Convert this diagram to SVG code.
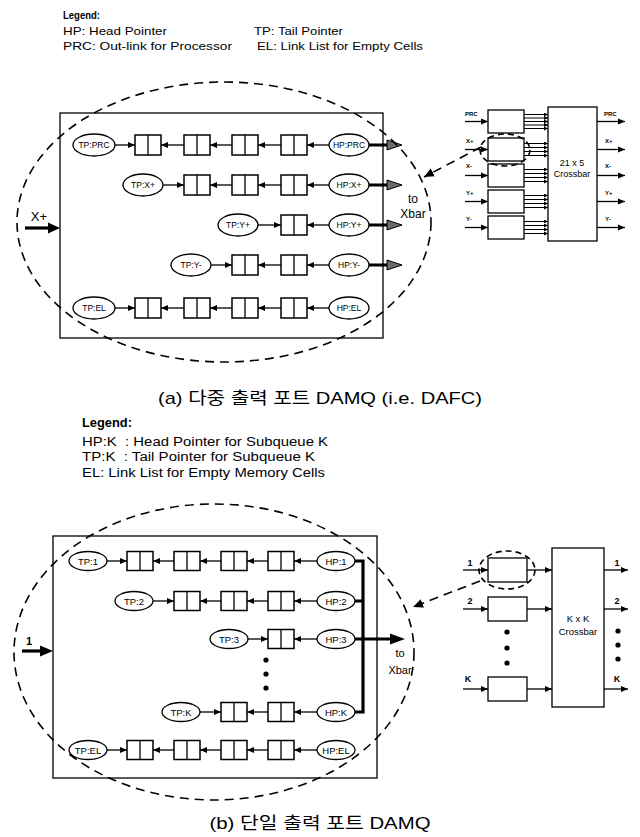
<svg xmlns="http://www.w3.org/2000/svg" width="640" height="837" viewBox="0 0 640 837">
<defs>
<marker id="ah" markerUnits="userSpaceOnUse" markerWidth="7" markerHeight="7" viewBox="0 0 7 7" refX="7" refY="3.5" orient="auto"><path d="M0,0.5 L7,3.5 L0,6.5 z" fill="#000"/></marker>
<marker id="sh" markerUnits="userSpaceOnUse" markerWidth="4" markerHeight="4" viewBox="0 0 4 4" refX="4" refY="2" orient="auto"><path d="M0,0 L4,2 L0,4 z" fill="#000"/></marker>
<marker id="dh" markerUnits="userSpaceOnUse" markerWidth="10" markerHeight="10" viewBox="0 0 10 10" refX="10" refY="5" orient="auto"><path d="M0,0.5 L10,5 L0,9.5 z" fill="#000"/></marker>
<style>
.ln{stroke:#000;stroke-width:1.3;fill:none}
.thk{stroke:#000;stroke-width:3.2;fill:none}
.box{fill:#fff;stroke:#000;stroke-width:1.3}
.cell{fill:#fff;stroke:#000;stroke-width:1.5}
.ell{fill:#fff;stroke:#000;stroke-width:1.3}
.dash{fill:none;stroke:#000;stroke-width:1.6;stroke-dasharray:9 6}
.sdash{fill:none;stroke:#000;stroke-width:1.6;stroke-dasharray:6 4}
.t{font-family:"Liberation Sans",Arial,sans-serif;fill:#000}
.na{font-family:"Liberation Sans",Arial,sans-serif;font-size:8.5px;text-anchor:middle;fill:#000}
.nb{font-family:"Liberation Sans",Arial,sans-serif;font-size:9.5px;text-anchor:middle;fill:#000}
.tiny{font-family:"Liberation Sans",Arial,sans-serif;font-size:6px;font-weight:bold;fill:#000}
.lg{font-family:"Liberation Sans",Arial,sans-serif;font-size:11px;fill:#000}
.lgb{font-family:"Liberation Sans",Arial,sans-serif;font-size:12.5px;fill:#000;white-space:pre}
.cap{font-family:"Liberation Sans","Noto Sans CJK KR",sans-serif;font-size:17px;text-anchor:middle;fill:#000}
.thead{fill:#6a6a6a;stroke:#000;stroke-width:1}
</style>
</defs>
<rect width="640" height="837" fill="#fff"/>

<!-- Legend (a) -->
<g id="legend-a">
<text class="lg" x="63" y="19" font-weight="bold" textLength="37" lengthAdjust="spacingAndGlyphs">Legend:</text>
<text class="lg" x="63" y="35" textLength="104" lengthAdjust="spacingAndGlyphs">HP: Head Pointer</text>
<text class="lg" x="254" y="35" textLength="89" lengthAdjust="spacingAndGlyphs">TP: Tail Pointer</text>
<text class="lg" x="63" y="50" textLength="169" lengthAdjust="spacingAndGlyphs">PRC: Out-link for Processor</text>
<text class="lg" x="257" y="50" textLength="166" lengthAdjust="spacingAndGlyphs">EL: Link List for Empty Cells</text>
</g>

<!-- Part (a) frame -->
<g id="a-frame"><rect class="box" x="60" y="113" width="323" height="225" fill="none"/></g>

<!-- (a) row 1 -->
<g id="a-tp-prc"><ellipse class="ell" cx="94" cy="145" rx="21" ry="11"/><text class="na" x="94" y="148">TP:PRC</text></g>
<g id="a-r1-c1"><rect class="cell" x="135" y="135" width="26" height="20"/><line class="ln" x1="148" y1="135" x2="148" y2="155"/></g>
<g id="a-r1-c2"><rect class="cell" x="184" y="135" width="26" height="20"/><line class="ln" x1="197" y1="135" x2="197" y2="155"/></g>
<g id="a-r1-c3"><rect class="cell" x="232" y="135" width="26" height="20"/><line class="ln" x1="245" y1="135" x2="245" y2="155"/></g>
<g id="a-r1-c4"><rect class="cell" x="281" y="135" width="26" height="20"/><line class="ln" x1="294" y1="135" x2="294" y2="155"/></g>
<g id="a-hp-prc"><ellipse class="ell" cx="349" cy="145" rx="20" ry="11"/><text class="na" x="349" y="148">HP:PRC</text></g>

<!-- (a) row 2 -->
<g id="a-tp-xp"><ellipse class="ell" cx="143" cy="185" rx="20" ry="11"/><text class="na" x="143" y="188">TP:X+</text></g>
<g id="a-r2-c2"><rect class="cell" x="184" y="175" width="26" height="20"/><line class="ln" x1="197" y1="175" x2="197" y2="195"/></g>
<g id="a-r2-c3"><rect class="cell" x="232" y="175" width="26" height="20"/><line class="ln" x1="245" y1="175" x2="245" y2="195"/></g>
<g id="a-r2-c4"><rect class="cell" x="281" y="175" width="26" height="20"/><line class="ln" x1="294" y1="175" x2="294" y2="195"/></g>
<g id="a-hp-xp"><ellipse class="ell" cx="349" cy="185" rx="20" ry="11"/><text class="na" x="349" y="188">HP:X+</text></g>

<!-- (a) row 3 -->
<g id="a-tp-yp"><ellipse class="ell" cx="238" cy="225" rx="20" ry="11"/><text class="na" x="238" y="228">TP:Y+</text></g>
<g id="a-r3-c4"><rect class="cell" x="281" y="215" width="26" height="20"/><line class="ln" x1="294" y1="215" x2="294" y2="235"/></g>
<g id="a-hp-yp"><ellipse class="ell" cx="349" cy="225" rx="20" ry="11"/><text class="na" x="349" y="228">HP:Y+</text></g>

<!-- (a) row 4 -->
<g id="a-tp-ym"><ellipse class="ell" cx="191" cy="265" rx="20" ry="11"/><text class="na" x="191" y="268">TP:Y-</text></g>
<g id="a-r4-c3"><rect class="cell" x="232" y="255" width="26" height="20"/><line class="ln" x1="245" y1="255" x2="245" y2="275"/></g>
<g id="a-r4-c4"><rect class="cell" x="281" y="255" width="26" height="20"/><line class="ln" x1="294" y1="255" x2="294" y2="275"/></g>
<g id="a-hp-ym"><ellipse class="ell" cx="349" cy="265" rx="20" ry="11"/><text class="na" x="349" y="268">HP:Y-</text></g>

<!-- (a) row 5 -->
<g id="a-tp-el"><ellipse class="ell" cx="94" cy="308" rx="21" ry="11"/><text class="na" x="94" y="311">TP:EL</text></g>
<g id="a-r5-c1"><rect class="cell" x="135" y="298" width="26" height="20"/><line class="ln" x1="148" y1="298" x2="148" y2="318"/></g>
<g id="a-r5-c2"><rect class="cell" x="184" y="298" width="26" height="20"/><line class="ln" x1="197" y1="298" x2="197" y2="318"/></g>
<g id="a-r5-c3"><rect class="cell" x="232" y="298" width="26" height="20"/><line class="ln" x1="245" y1="298" x2="245" y2="318"/></g>
<g id="a-r5-c4"><rect class="cell" x="281" y="298" width="26" height="20"/><line class="ln" x1="294" y1="298" x2="294" y2="318"/></g>
<g id="a-hp-el"><ellipse class="ell" cx="349" cy="308" rx="20" ry="11"/><text class="na" x="349" y="311">HP:EL</text></g>

<!-- (a) labels -->
<g id="a-xin-label"><text class="t" x="39" y="221" font-size="13" text-anchor="middle">X+</text></g>
<g id="a-toxbar"><text class="t" x="413" y="203" font-size="12" text-anchor="middle">to</text><text class="t" x="413" y="218" font-size="12" text-anchor="middle">Xbar</text></g>

<!-- (a) crossbar diagram -->
<g id="a-xbar"><rect class="box" x="548" y="107" width="49" height="134"/><text class="t" x="572" y="166" font-size="9" text-anchor="middle">21 x 5</text><text class="t" x="572" y="177" font-size="9" text-anchor="middle">Crossbar</text></g>
<g id="a-buf-prc"><rect class="box" x="488" y="110" width="36" height="23"/><text class="tiny" x="465" y="116">PRC</text></g>
<g id="a-buf-xp"><rect class="box" x="488" y="138" width="36" height="23"/><text class="tiny" x="466" y="143">X+</text></g>
<g id="a-buf-xm"><rect class="box" x="488" y="164" width="36" height="23"/><text class="tiny" x="466" y="168">X-</text></g>
<g id="a-buf-yp"><rect class="box" x="488" y="190" width="36" height="23"/><text class="tiny" x="466" y="195">Y+</text></g>
<g id="a-buf-ym"><rect class="box" x="488" y="216" width="36" height="23"/><text class="tiny" x="466" y="221">Y-</text></g>
<g id="a-out-labels"><text class="tiny" x="604" y="116">PRC</text><text class="tiny" x="605" y="143">X+</text><text class="tiny" x="605" y="168">X-</text><text class="tiny" x="605" y="195">Y+</text><text class="tiny" x="605" y="221">Y-</text></g>

<!-- Legend (b) -->
<g id="legend-b">
<text class="lgb" x="82" y="427" font-weight="bold" textLength="50" lengthAdjust="spacingAndGlyphs">Legend:</text>
<text class="lgb" x="82" y="446" textLength="246" lengthAdjust="spacingAndGlyphs">HP:K  : Head Pointer for Subqueue K</text>
<text class="lgb" x="82" y="461" textLength="233" lengthAdjust="spacingAndGlyphs">TP:K  : Tail Pointer for Subqueue K</text>
<text class="lgb" x="82" y="477" textLength="243" lengthAdjust="spacingAndGlyphs">EL: Link List for Empty Memory Cells</text>
</g>

<!-- Part (b) frame -->
<g id="b-frame"><rect class="box" x="53" y="536" width="324" height="242" fill="none"/></g>

<!-- (b) row 1 -->
<g id="b-tp-1"><ellipse class="ell" cx="88" cy="561" rx="19" ry="9.5"/><text class="nb" x="88" y="564.5">TP:1</text></g>
<g id="b-r1-c1"><rect class="cell" x="127" y="551.5" width="26" height="19"/><line class="ln" x1="140" y1="551.5" x2="140" y2="570.5"/></g>
<g id="b-r1-c2"><rect class="cell" x="174" y="551.5" width="26" height="19"/><line class="ln" x1="187" y1="551.5" x2="187" y2="570.5"/></g>
<g id="b-r1-c3"><rect class="cell" x="221" y="551.5" width="26" height="19"/><line class="ln" x1="234" y1="551.5" x2="234" y2="570.5"/></g>
<g id="b-r1-c4"><rect class="cell" x="268" y="551.5" width="26" height="19"/><line class="ln" x1="281" y1="551.5" x2="281" y2="570.5"/></g>
<g id="b-hp-1"><ellipse class="ell" cx="336" cy="561" rx="19" ry="9.5"/><text class="nb" x="336" y="564.5">HP:1</text></g>

<!-- (b) row 2 -->
<g id="b-tp-2"><ellipse class="ell" cx="134" cy="601" rx="19" ry="9.5"/><text class="nb" x="134" y="604.5">TP:2</text></g>
<g id="b-r2-c2"><rect class="cell" x="174" y="591.5" width="26" height="19"/><line class="ln" x1="187" y1="591.5" x2="187" y2="610.5"/></g>
<g id="b-r2-c3"><rect class="cell" x="221" y="591.5" width="26" height="19"/><line class="ln" x1="234" y1="591.5" x2="234" y2="610.5"/></g>
<g id="b-r2-c4"><rect class="cell" x="268" y="591.5" width="26" height="19"/><line class="ln" x1="281" y1="591.5" x2="281" y2="610.5"/></g>
<g id="b-hp-2"><ellipse class="ell" cx="336" cy="601" rx="19" ry="9.5"/><text class="nb" x="336" y="604.5">HP:2</text></g>

<!-- (b) row 3 -->
<g id="b-tp-3"><ellipse class="ell" cx="229" cy="639" rx="19" ry="9.5"/><text class="nb" x="229" y="642.5">TP:3</text></g>
<g id="b-r3-c4"><rect class="cell" x="268" y="629.5" width="26" height="19"/><line class="ln" x1="281" y1="629.5" x2="281" y2="648.5"/></g>
<g id="b-hp-3"><ellipse class="ell" cx="336" cy="639" rx="19" ry="9.5"/><text class="nb" x="336" y="642.5">HP:3</text></g>

<!-- (b) vertical dots -->
<g id="b-dots"><circle cx="266" cy="660" r="2.6"/><circle cx="266" cy="674" r="2.6"/><circle cx="266" cy="688" r="2.6"/></g>

<!-- (b) row K -->
<g id="b-tp-k"><ellipse class="ell" cx="181" cy="712" rx="19" ry="9.5"/><text class="nb" x="181" y="715.5">TP:K</text></g>
<g id="b-rk-c3"><rect class="cell" x="221" y="702.5" width="26" height="19"/><line class="ln" x1="234" y1="702.5" x2="234" y2="721.5"/></g>
<g id="b-rk-c4"><rect class="cell" x="268" y="702.5" width="26" height="19"/><line class="ln" x1="281" y1="702.5" x2="281" y2="721.5"/></g>
<g id="b-hp-k"><ellipse class="ell" cx="336" cy="712" rx="19" ry="9.5"/><text class="nb" x="336" y="715.5">HP:K</text></g>

<!-- (b) row EL -->
<g id="b-tp-el"><ellipse class="ell" cx="88" cy="750" rx="19" ry="9.5"/><text class="nb" x="88" y="753.5">TP:EL</text></g>
<g id="b-r5-c1"><rect class="cell" x="127" y="740.5" width="26" height="19"/><line class="ln" x1="140" y1="740.5" x2="140" y2="759.5"/></g>
<g id="b-r5-c2"><rect class="cell" x="174" y="740.5" width="26" height="19"/><line class="ln" x1="187" y1="740.5" x2="187" y2="759.5"/></g>
<g id="b-r5-c3"><rect class="cell" x="221" y="740.5" width="26" height="19"/><line class="ln" x1="234" y1="740.5" x2="234" y2="759.5"/></g>
<g id="b-r5-c4"><rect class="cell" x="268" y="740.5" width="26" height="19"/><line class="ln" x1="281" y1="740.5" x2="281" y2="759.5"/></g>
<g id="b-hp-el"><ellipse class="ell" cx="336" cy="750" rx="19" ry="9.5"/><text class="nb" x="336" y="753.5">HP:EL</text></g>

<!-- (b) labels -->
<g id="b-in-label"><text class="t" x="29" y="645" font-size="11" font-weight="bold" text-anchor="middle">1</text></g>
<g id="b-toxbar"><text class="t" x="400" y="657" font-size="11" text-anchor="middle">to</text><text class="t" x="400" y="674" font-size="11" text-anchor="middle">Xbar</text></g>

<!-- (b) crossbar diagram -->
<g id="b-xbar"><rect class="box" x="552" y="548" width="52" height="159"/><text class="t" x="578" y="622" font-size="9.5" text-anchor="middle">K x K</text><text class="t" x="578" y="635" font-size="9.5" text-anchor="middle">Crossbar</text></g>
<g id="b-buf-1"><rect class="box" x="488" y="558" width="39" height="24"/><text class="t" x="470" y="566" font-size="9" font-weight="bold" text-anchor="middle">1</text></g>
<g id="b-buf-2"><rect class="box" x="488" y="597" width="39" height="24"/><text class="t" x="470" y="604" font-size="9" font-weight="bold" text-anchor="middle">2</text></g>
<g id="b-buf-k"><rect class="box" x="488" y="677" width="39" height="24"/><text class="t" x="468" y="682" font-size="9" font-weight="bold" text-anchor="middle">K</text></g>
<g id="b-in-dots"><circle cx="507" cy="632" r="2.6"/><circle cx="507" cy="648" r="2.6"/><circle cx="507" cy="663" r="2.6"/></g>
<g id="b-out-labels"><text class="t" x="617" y="566" font-size="9" font-weight="bold" text-anchor="middle">1</text><text class="t" x="617" y="604" font-size="9" font-weight="bold" text-anchor="middle">2</text><text class="t" x="617" y="682" font-size="9" font-weight="bold" text-anchor="middle">K</text><circle cx="618" cy="631" r="2.6"/><circle cx="618" cy="645" r="2.6"/><circle cx="618" cy="659" r="2.6"/></g>

<!-- Connectors -->
<g id="connectors">
<!-- (a) queue links -->
<g class="ln" marker-end="url(#ah)">
<path d="M115,145 H135"/><path d="M184,145 H161"/><path d="M232,145 H210"/><path d="M281,145 H258"/><path d="M329,145 H307"/>
<path d="M163,185 H184"/><path d="M232,185 H210"/><path d="M281,185 H258"/><path d="M329,185 H307"/>
<path d="M258,225 H281"/><path d="M329,225 H307"/>
<path d="M211,265 H232"/><path d="M281,265 H258"/><path d="M329,265 H307"/>
<path d="M115,308 H135"/><path d="M184,308 H161"/><path d="M232,308 H210"/><path d="M281,308 H258"/><path d="M329,308 H307"/>
</g>
<!-- (a) thick outputs -->
<g>
<path class="thk" d="M369,145 H389 M369,185 H389 M369,225 H389 M369,265 H389"/>
<polygon class="thead" points="387,140 402,145 387,150"/>
<polygon class="thead" points="387,180 402,185 387,190"/>
<polygon class="thead" points="387,220 402,225 387,230"/>
<polygon class="thead" points="387,260 402,265 387,270"/>
</g>
<!-- (a) input X+ -->
<path class="thk" d="M25,228 H50"/><polygon points="48,222.5 60,228 48,233.5" fill="#000"/>
<!-- (a) crossbar inputs / outputs -->
<g class="ln" marker-end="url(#ah)">
<path d="M465,121.5 H488"/><path d="M465,149.5 H488"/><path d="M465,175.5 H488"/><path d="M465,201.5 H488"/><path d="M465,227.5 H488"/>
<path d="M597,121.5 H625"/><path d="M597,149.5 H625"/><path d="M597,175.5 H625"/><path d="M597,201.5 H625"/><path d="M597,227.5 H625"/>
</g>
<g stroke="#000" stroke-width="1" fill="none" marker-end="url(#sh)">
<path d="M524,114.5 H548"/><path d="M524,118 H548"/><path d="M524,121.5 H548"/><path d="M524,125 H548"/><path d="M524,128.5 H548"/>
<path d="M524,143.5 H548"/><path d="M524,147.5 H548"/><path d="M524,151.5 H548"/><path d="M524,155.5 H548"/>
<path d="M524,169.5 H548"/><path d="M524,173.5 H548"/><path d="M524,177.5 H548"/><path d="M524,181.5 H548"/>
<path d="M524,195.5 H548"/><path d="M524,199.5 H548"/><path d="M524,203.5 H548"/><path d="M524,207.5 H548"/>
<path d="M524,221.5 H548"/><path d="M524,225.5 H548"/><path d="M524,229.5 H548"/><path d="M524,233.5 H548"/>
</g>
<!-- (a) dashed enclosures -->
<ellipse class="dash" cx="224" cy="222" rx="207" ry="140"/>
<ellipse class="sdash" cx="505" cy="150" rx="25" ry="16"/>
<path class="dash" d="M481,147 L424,177" marker-end="url(#dh)"/>

<!-- (b) queue links -->
<g class="ln" marker-end="url(#ah)">
<path d="M107,561 H127"/><path d="M174,561 H153"/><path d="M221,561 H200"/><path d="M268,561 H247"/><path d="M317,561 H294"/>
<path d="M153,601 H174"/><path d="M221,601 H200"/><path d="M268,601 H247"/><path d="M317,601 H294"/>
<path d="M248,639 H268"/><path d="M317,639 H294"/>
<path d="M200,712 H221"/><path d="M268,712 H247"/><path d="M317,712 H294"/>
<path d="M107,750 H127"/><path d="M174,750 H153"/><path d="M221,750 H200"/><path d="M268,750 H247"/><path d="M317,750 H294"/>
</g>
<!-- (b) bus and output -->
<path class="thk" d="M355,561 H363 V712 H355 M355,601 H363 M355,639 H392"/>
<polygon points="390,633.5 405,639 390,644.5" fill="#000"/>
<!-- (b) input 1 -->
<path class="thk" d="M22,651 H42"/><polygon points="40,645.5 53,651 40,656.5" fill="#000"/>
<!-- (b) crossbar links -->
<g class="ln" marker-end="url(#ah)">
<path d="M463,570 H488"/><path d="M463,609 H488"/><path d="M463,689 H488"/>
<path d="M527,570 H552"/><path d="M527,609 H552"/><path d="M527,689 H552"/>
<path d="M604,570 H628"/><path d="M604,609 H628"/><path d="M604,689 H628"/>
</g>
<!-- (b) dashed enclosures -->
<ellipse class="dash" cx="214" cy="652" rx="200" ry="148"/>
<ellipse class="sdash" cx="507" cy="570" rx="28" ry="19"/>
<path class="dash" d="M480,581 L413,607" marker-end="url(#dh)"/>
</g>

<!-- Captions -->
<g id="caption-a"><text class="cap" x="320" y="404" textLength="324" lengthAdjust="spacingAndGlyphs">(a) 다중 출력 포트 DAMQ (i.e. DAFC)</text></g>
<g id="caption-b"><text class="cap" x="320" y="829" textLength="221" lengthAdjust="spacingAndGlyphs">(b) 단일 출력 포트 DAMQ</text></g>
</svg>
